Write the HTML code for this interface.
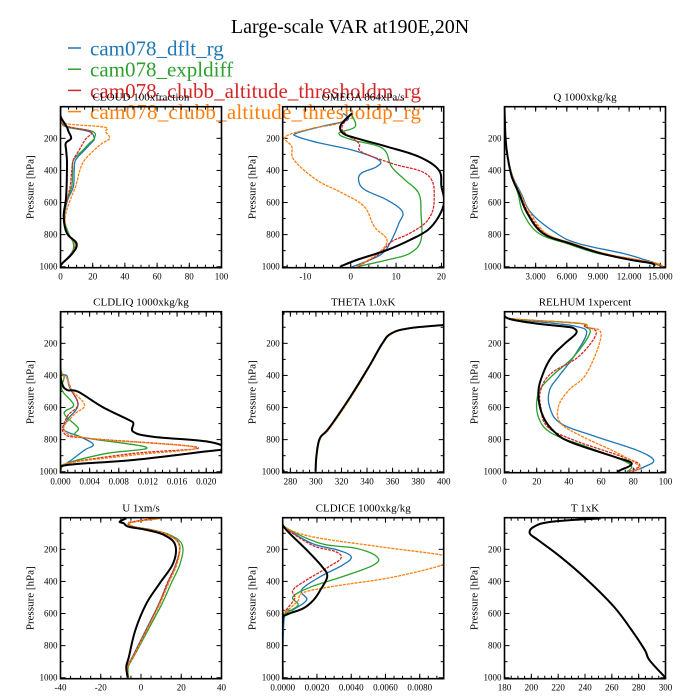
<!DOCTYPE html>
<html><head><meta charset="utf-8"><style>
html,body{margin:0;padding:0;background:#fff;}
svg{display:block;font-family:"Liberation Serif",serif;}
</style></head><body>
<svg id="chart" width="700" height="700" viewBox="0 0 700 700" xmlns="http://www.w3.org/2000/svg">
<text x="350" y="33" font-size="20" text-anchor="middle">Large-scale VAR at190E,20N</text>
<g id="legend"></g>
<g id="panels"></g>
</svg>
<script>
const seriesNames = ["cam078_dflt_rg","cam078_expldiff","cam078_clubb_altitude_thresholdm_rg","cam078_clubb_altitude_thresholdp_rg","obs"];
const seriesColors = ["#1f77b4","#2ca02c","#d62728","#ff7f0e","#000000"];
const pressureTicks = [200,400,600,800,1000];

// CLOUD
const cloudLevels = [3,60,106,130,158,200,230,273,335,400,500,585,688,792,855,917,980,1000];
const cloudBlue   = [0,0,1,4,17.6,21,19,15,9.4,8.5,8,4.4,2.5,4,9,6.6,1,0];
const cloudGreen  = [0,0,1,5,20,21,18,14,8,7.5,7,4,2,5,8,7,1,0];
const cloudRed    = [0,0,1,6,19,16,14,11.6,8,7,6,4,2,4,10,7,1,0];
const cloudOrange = [0,0,2,27,28,30.6,26,21,15,12,9.4,6,3,4,9,7,1,0];
const cloudBlack  = [0,0,2.5,4,5,6.6,3.3,3.5,4,4,3.8,3.3,2,4,10,7.4,1,0];
const cloudTicks = [0,20,40,60,80,100];

// OMEGA (pairs of [pressure, value])
const omegaBlue = [[44,-1.7],[86,-0.7],[127,-6.6],[169,-12],[190,-11.7],[231,-6.6],[273,0.3],[335,6.2],[377,5.7],[418,2.3],[470,1.8],[522,3.2],[584,8],[657,11.4],[730,10.6],[834,9],[917,7],[969,3.2],[1000,0.3]];
const omegaGreen = [[44,0],[127,1],[169,-2.6],[210,0.3],[262,7],[377,9],[460,12],[543,15],[667,15.5],[834,15.5],[917,13],[958,8],[1000,1.3]];
const omegaRed = [[55,-0.2],[127,-1.9],[169,-1.2],[231,1.8],[283,2.3],[356,9],[429,17],[585,18.4],[709,17],[792,13],[844,9],[927,6],[1000,1.3]];
const omegaOrange = [[44,0.3],[106,-2.6],[138,-8.5],[190,-14.4],[252,-13],[335,-12.5],[460,-7.5],[543,-1.7],[626,3],[750,5.2],[834,8],[917,6],[1000,1.3]];
const omegaBlack = [[44,0.3],[117,-2.2],[169,-1.7],[200,1.3],[252,8],[314,15],[397,19.4],[501,20],[595,20.6],[688,19.4],[771,17],[834,13],[896,8],[958,1.3],[1000,-2.4]];
const omegaTicks = [-10,0,10,20];

// Q
const qLevels = [3,200,314,439,543,667,792,855,917,958,979,1000];
const qBlue   = [0,0.1,0.3,0.8,1.6,2.6,5.0,7.1,11.4,13.6,14.6,15.2];
const qGreen  = [0,0.1,0.3,0.7,1.3,1.8,3.3,6.0,9.0,12.7,14.3,15.2];
const qRed    = [0,0.1,0.3,0.7,1.5,2.3,3.9,6.5,9.5,12.8,14.5,15.2];
const qOrange = [0,0.1,0.3,0.8,1.5,2.5,4.0,6.6,9.6,13.0,14.7,15.3];
const qBlack  = [0,0.1,0.3,0.7,1.4,2.2,3.7,6.3,9.3,12.2,14.2,14.4];
const qTicks = [3,6,9,12,15];

// CLDLIQ
const liqBlue = [[3,0],[350,0],[404,0.0009],[470,0.0012],[584,0.0024],[678,0.0009],[740,0.0005],[782,0.0027],[830,0.0045],[865,0.0033],[927,0.0015],[969,0.0002],[1000,0]];
const liqGreen = [[3,0],[350,0],[408,0.0005],[491,0.0002],[584,0.0018],[636,0.0005],[726,0.0024],[782,0.0027],[848,0.0118],[886,0.0063],[948,0.0009],[1000,0]];
const liqRed = [[3,0],[350,0],[418,0.0009],[491,0.0015],[584,0.0024],[657,0.0009],[761,0.0005],[792,0.0039],[848,0.0188],[886,0.01],[948,0.0009],[1000,0]];
const liqOrange = [[3,0],[350,0],[418,0.0009],[491,0.0015],[584,0.0033],[647,0.0018],[740,0.0005],[792,0.0039],[848,0.0185],[896,0.01],[948,0.0009],[1000,0]];
const liqBlack = [[3,0],[350,0],[449,0.0002],[491,0.0009],[501,0.0024],[595,0.0057],[678,0.0094],[699,0.01],[751,0.01],[782,0.0127],[813,0.0203],[855,0.0225],[875,0.0197],[927,0.01],[958,0.0009],[990,0]];
const liqTicks = [0,0.004,0.008,0.012,0.016,0.020];

// THETA
const thetaLevels = [86,106,138,200,345,532,730,792,900,1000];
const thetaBlack  = [400,373,359,352,341.5,327,310,303,300.4,299.7];
const thetaOrange = [400,374,360,352.5,342,327.8,310.8,303.6,300.8,300];
const thetaBlue   = [400,373.5,359.5,352.3,341.8,327.4,310.4,303.3,300.6,299.9];
const thetaTicks = [280,300,320,340,360,380,400];

// RELHUM
const rhBlue = [[3,0],[44,2],[75,30],[96,45],[138,51],[283,43],[408,33.5],[491,28],[595,28],[699,35],[782,57],[865,82],[927,92.6],[969,87],[1000,79]];
const rhGreen = [[3,0],[44,2],[75,46],[96,50],[138,53],[283,43],[408,29],[512,21],[657,21],[761,29.4],[844,51],[927,73],[969,79],[1000,76]];
const rhRed = [[3,0],[44,2],[75,46],[96,50],[138,57],[283,46],[387,29],[491,22.5],[595,22.5],[719,26.6],[803,43],[906,73],[958,84],[1000,77]];
const rhOrange = [[3,0],[44,2],[75,46],[100,52],[148,60],[387,51],[491,40],[595,33.5],[699,35],[782,48.6],[886,70.6],[969,84],[1000,79]];
const rhBlack = [[3,0],[44,2],[75,18.4],[96,37.6],[106,43],[138,44.5],[200,37.6],[283,29.4],[387,24],[512,21],[657,24],[761,32],[823,43],[906,68],[948,79],[990,72],[1000,70]];
const rhTicks = [0,20,40,60,80,100];

// U
const uLevels = [7,28,38,59,79,111,173,287,412,537,703,869,931,1000];
const uBlue   = [8,-3,-6.2,-4,4.9,13.7,19.2,17.5,13.2,9,2.4,-4.2,-6.8,-6.6];
const uGreen  = [9,-3,-6,-3.5,5.5,14.5,20.5,19.5,15,10.5,3.5,-3.6,-6.3,-6.2];
const uRed    = [7,-4,-6.5,-4,4.9,13.7,19,17.5,13,9,2.7,-4,-6.8,-6.6];
const uOrange = [10.4,-3,-6.2,-4.2,4.5,13.5,19,18,13.7,9.5,2.9,-3.8,-6.6,-6.4];
const uBlack  = [-7.3,-10.6,-8.5,-6.2,2.7,11.5,17,16,9.3,2.7,-2.8,-6,-7.3,-6.6];
const uTicks = [-40,-20,0,20,40];

// CLDICE
const iceBlue = [[3,0],[59,0.0001],[163,0.0017],[204,0.0032],[246,0.004],[298,0.0035],[370,0.0022],[453,0.0011],[516,0.0014],[578,0.0006],[620,0.0001],[1000,0]];
const iceGreen = [[3,0],[59,0.0001],[163,0.0022],[194,0.0043],[246,0.0055],[298,0.0053],[370,0.0035],[432,0.0017],[495,0.0006],[547,0.0009],[599,0.0002],[640,0],[1000,0]];
const iceRed = [[3,0],[59,0.0001],[173,0.0017],[215,0.0031],[256,0.0034],[308,0.0027],[391,0.0014],[453,0.0006],[505,0.0007],[578,0.0002],[620,0],[1000,0]];
const iceOrange = [[3,0],[59,0.0001],[121,0.0017],[183,0.0056],[240,0.0095],[280,0.0098],[370,0.0066],[430,0.003],[470,0.0012],[520,0.0009],[560,0.0005],[600,0.0001],[640,0],[1000,0]];
const iceBlack = [[3,0],[48,0],[100,0.0004],[204,0.0014],[308,0.0023],[370,0.0026],[453,0.0022],[516,0.0018],[568,0.0012],[609,0.0002],[650,0],[1000,0]];
const iceTicks = [0,0.002,0.004,0.006,0.008];

// T
const tLevels = [7,28,59,100,142,246,391,557,703,828,890,1000];
const tBlack  = [251.6,215,202,198.8,205,221.6,241.7,261.5,274.7,284.6,288,300];
const tOrange = [252,216,202.5,199.2,205.5,222,242,261.8,275,285,288.4,300.2];
const tBlue   = [251.8,215.5,202.2,199,205.2,221.8,241.8,261.6,274.8,284.8,288.2,300.1];
const tTicks = [180,200,220,240,260,280,300];

function zip(levels, vals){ return levels.map((p,i)=>[p,vals[i]]); }

const NS="http://www.w3.org/2000/svg";
const panelsG=document.getElementById('panels');
function mk(tag, attrs, parent){ const e=document.createElementNS(NS,tag); for(const k in attrs) e.setAttribute(k,attrs[k]); (parent||panelsG).appendChild(e); return e; }

// legend
const leg=document.getElementById('legend');
for(let i=0;i<4;i++){
  const y=48+i*21.2;
  const ln=mk('line',{x1:68,x2:81,y1:y,y2:y,stroke:seriesColors[i],'stroke-width':1.5},leg);
  
  
  const t=mk('text',{x:90,y:y+7.5,'font-size':21,fill:seriesColors[i]},leg);
  if(i>=2) t.setAttribute('textLength','331');
  t.textContent=seriesNames[i];
  
  
}

const colX=[60.5,282.7,504.5], rowY=[106.7,311.7,517.7], W=161, H=161;
const P0=3, P1=1006;

function fmt(v,dec){ return dec===undefined? String(v) : v.toFixed(dec); }

function smoothPath(pts){
  let d='M'+pts[0][0].toFixed(2)+','+pts[0][1].toFixed(2);
  for(let i=0;i<pts.length-1;i++){
    const p0=pts[Math.max(0,i-1)],p1=pts[i],p2=pts[i+1],p3=pts[Math.min(pts.length-1,i+2)];
    const t=0.18;
    const c1=[p1[0]+(p2[0]-p0[0])*t,p1[1]+(p2[1]-p0[1])*t];
    const c2=[p2[0]-(p3[0]-p1[0])*t,p2[1]-(p3[1]-p1[1])*t];
    d+=' C'+c1[0].toFixed(2)+','+c1[1].toFixed(2)+' '+c2[0].toFixed(2)+','+c2[1].toFixed(2)+' '+p2[0].toFixed(2)+','+p2[1].toFixed(2);
  }
  return d;
}

function panel(col,row,name,title,xmin,xmax,ticks,dec,minorStep,series){
  const x0=colX[col], y0=rowY[row];
  const g=mk('g',{});
  
  
  const xs=v=>x0+(v-xmin)/(xmax-xmin)*W;
  const ys=p=>y0+(p-P0)/(P1-P0)*H;
  const clipId='clip-'+name;
  const cp=mk('clipPath',{id:clipId},g); mk('rect',{x:x0,y:y0,width:W,height:H},cp);
  const tt=mk('text',{x:x0+W/2,y:y0-6,'font-size':11,'text-anchor':'middle'},g);
  tt.textContent=title;
  
  
  for(let p=100;p<=1000;p+=100){
    const major=p%200===0, L=major?5:3, y=ys(p);
    mk('line',{x1:x0,x2:x0+L,y1:y,y2:y,stroke:'#000','stroke-width':1},g);
    mk('line',{x1:x0+W,x2:x0+W-L,y1:y,y2:y,stroke:'#000','stroke-width':1},g);
  }
  pressureTicks.forEach(p=>{
    const t=mk('text',{x:x0-3,y:ys(p)+3,'font-size':9,'text-anchor':'end'},g);
    t.textContent=p;
    
    
  });
  const yl=mk('text',{x:0,y:0,'font-size':11,'text-anchor':'middle',transform:`translate(${x0-27},${y0+H/2}) rotate(-90)`},g);
  yl.textContent='Pressure [hPa]';
  
  
  if(minorStep){
    const s=Math.ceil(xmin/minorStep);
    for(let k=s;k*minorStep<=xmax+1e-12;k++){
      const x=xs(k*minorStep);
      mk('line',{x1:x,x2:x,y1:y0+H,y2:y0+H-3,stroke:'#000','stroke-width':1},g);
      mk('line',{x1:x,x2:x,y1:y0,y2:y0+3,stroke:'#000','stroke-width':1},g);
    }
  }
  ticks.forEach(v=>{
    const x=xs(v);
    mk('line',{x1:x,x2:x,y1:y0+H,y2:y0+H-5,stroke:'#000','stroke-width':1},g);
    mk('line',{x1:x,x2:x,y1:y0,y2:y0+5,stroke:'#000','stroke-width':1},g);
    const t=mk('text',{x:x,y:y0+H+12,'font-size':9,'text-anchor':'middle'},g);
    t.textContent=fmt(v,dec);
    
    
  });
  const lg=mk('g',{'clip-path':`url(#${clipId})`},g);
  series.forEach((pts,i)=>{
    if(!pts) return;
    const d=smoothPath(pts.map(pv=>[xs(pv[1]),ys(pv[0])]));
    const attrs={d:d,fill:'none',stroke:seriesColors[i],'stroke-width':i===4?2:1.3,'stroke-linejoin':'round'};
    if(i===2||i===3) attrs['stroke-dasharray']='3,1';
    const path=mk('path',attrs,lg);
    
    
  });
  const box=mk('rect',{x:x0,y:y0,width:W,height:H,fill:'none',stroke:'#000','stroke-width':1.6},g);
  
  
}

panel(0,0,'cloud','CLOUD  100xfraction',0,100,cloudTicks,undefined,5,
  [zip(cloudLevels,cloudBlue),zip(cloudLevels,cloudGreen),zip(cloudLevels,cloudRed),zip(cloudLevels,cloudOrange),zip(cloudLevels,cloudBlack)]);
panel(1,0,'omega','OMEGA  864xPa/s',-15,20.5,omegaTicks,undefined,2,
  [omegaBlue,omegaGreen,omegaRed,omegaOrange,omegaBlack]);
panel(2,0,'q','Q  1000xkg/kg',0,15.5,qTicks,3,1,
  [zip(qLevels,qBlue),zip(qLevels,qGreen),zip(qLevels,qRed),zip(qLevels,qOrange),zip(qLevels,qBlack)]);
panel(0,1,'cldliq','CLDLIQ  1000xkg/kg',0,0.0221,liqTicks,3,0.001,
  [liqBlue,liqGreen,liqRed,liqOrange,liqBlack]);
panel(1,1,'theta','THETA  1.0xK',274,400,thetaTicks,undefined,5,
  [zip(thetaLevels,thetaBlue),null,null,zip(thetaLevels,thetaOrange),zip(thetaLevels,thetaBlack)]);
panel(2,1,'relhum','RELHUM  1xpercent',0,100,rhTicks,undefined,5,
  [rhBlue,rhGreen,rhRed,rhOrange,rhBlack]);
panel(0,2,'u','U  1xm/s',-40,40,uTicks,undefined,5,
  [zip(uLevels,uBlue),zip(uLevels,uGreen),zip(uLevels,uRed),zip(uLevels,uOrange),zip(uLevels,uBlack)]);
panel(1,2,'cldice','CLDICE  1000xkg/kg',0,0.0094,iceTicks,4,0.0005,
  [iceBlue,iceGreen,iceRed,iceOrange,iceBlack]);
panel(2,2,'t','T  1xK',180,300,tTicks,undefined,5,
  [zip(tLevels,tBlue),null,null,zip(tLevels,tOrange),zip(tLevels,tBlack)]);
</script>
</body></html>
